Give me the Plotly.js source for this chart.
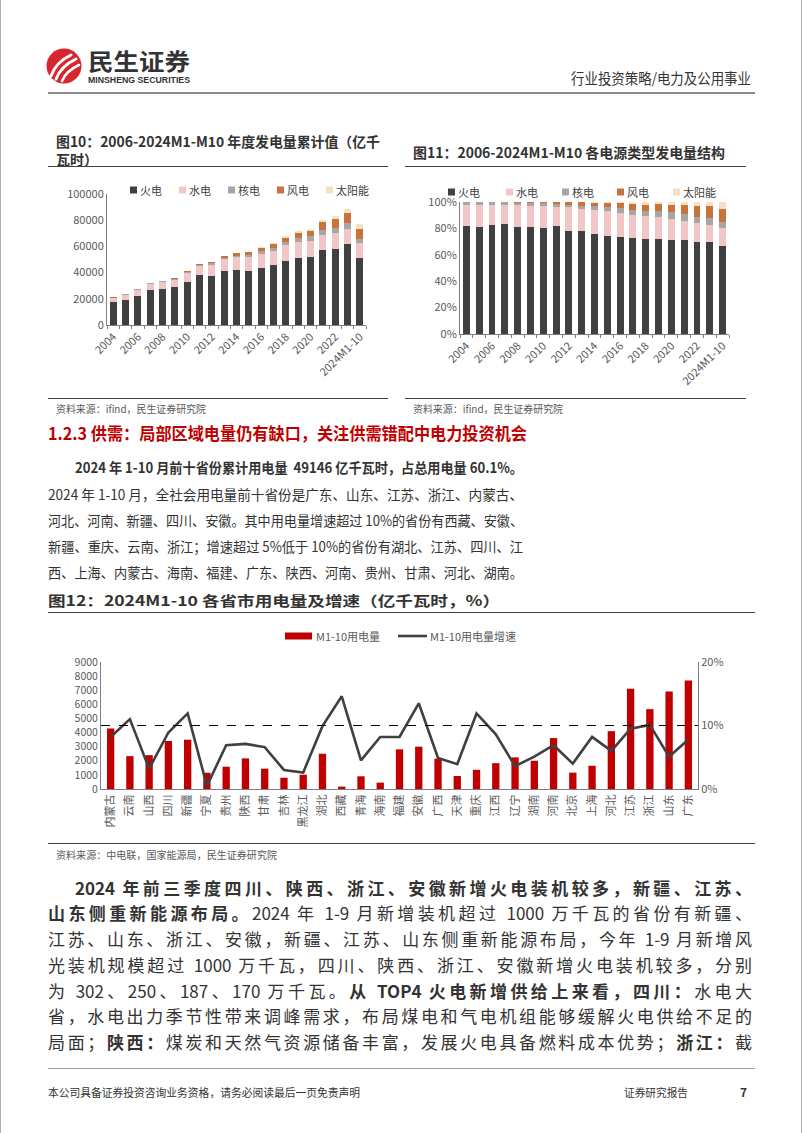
<!DOCTYPE html>
<html><head><meta charset="utf-8">
<script src="https://cdn.plot.ly/plotly-3.0.1.min.js"></script>
<style>
html,body{margin:0;padding:0;background:#fff;}
#page{position:relative;width:802px;height:1133px;overflow:hidden;background:#fff;font-family:'Noto Sans CJK SC','Noto Sans',sans-serif;color:#333;}
.t{position:absolute;white-space:nowrap;line-height:1;}
.hl{position:absolute;height:1px;background:#404040;}
.chart{position:absolute;}
b{font-weight:700;}
</style></head>
<body><div id="page">
<div style="position:absolute;left:0;top:0;width:1px;height:1133px;background:#b0b0b0"></div>
<div style="position:absolute;left:801px;top:0;width:1px;height:1133px;background:#b0b0b0"></div>
<svg style="position:absolute;left:44px;top:46px" width="42" height="42" viewBox="0 0 42 42">
<circle cx="20" cy="20" r="17.5" fill="#d7262d"/>
<path d="M7 30 Q12 16 27 9" stroke="#fff" stroke-width="3" fill="none" stroke-linecap="round"/>
<path d="M12 33 Q17 20 32 13" stroke="#fff" stroke-width="3" fill="none" stroke-linecap="round"/>
<path d="M18 35 Q22 25 35 19" stroke="#fff" stroke-width="2.6" fill="none" stroke-linecap="round"/>
</svg>
<div class="t fit" data-mode="scale" data-w="102" style="left:88px;top:49px;font-size:23px;font-weight:700;color:#333">民生证券</div>
<div class="t fit" data-mode="scale" data-w="102" style="left:88px;top:76px;font-size:8.5px;font-weight:700;color:#333;font-family:'Liberation Sans',sans-serif">MINSHENG SECURITIES</div>
<div class="t fit" data-mode="scale" data-w="180" style="left:571px;top:70px;font-size:15px;color:#333">行业投资策略/电力及公用事业</div>
<div style="position:absolute;left:48px;top:92px;width:707px;height:2px;background:#8c8c8c"></div>

<div class="t fit" data-mode="scale" data-w="324" style="left:56px;top:134px;font-size:14px;font-weight:700">图10：2006-2024M1-M10 年度发电量累计值（亿千</div>
<div class="t" style="left:56px;top:152px;font-size:14px;font-weight:700">瓦时）</div>
<div class="t fit" data-mode="scale" data-w="312" style="left:413px;top:145px;font-size:14px;font-weight:700">图11：2006-2024M1-M10 各电源类型发电量结构</div>
<div class="hl" style="left:48px;top:166px;width:340px"></div>
<div class="hl" style="left:405px;top:166px;width:341px"></div>

<div id="c10" class="chart" style="left:48px;top:170px;width:345px;height:225px"></div>
<div id="c11" class="chart" style="left:405px;top:170px;width:345px;height:225px"></div>

<div class="hl" style="left:48px;top:398px;width:340px"></div>
<div class="hl" style="left:405px;top:398px;width:341px"></div>
<div class="t fit" data-mode="scale" data-w="150" style="left:56px;top:404px;font-size:10px;color:#595959">资料来源：ifind，民生证券研究院</div>
<div class="t fit" data-mode="scale" data-w="150" style="left:413px;top:404px;font-size:10px;color:#595959">资料来源：ifind，民生证券研究院</div>

<div class="t fit" data-mode="scale" data-w="479" style="left:48px;top:424px;font-size:17px;font-weight:700;color:#c00000">1.2.3 供需：局部区域电量仍有缺口，关注供需错配中电力投资机会</div>

<div class="t fit" data-w="448" style="left:75px;top:460px;font-size:14px;color:#333"><b>2024 年 1-10 月前十省份累计用电量&nbsp; 49146 亿千瓦时，占总用电量 60.1%。</b></div>
<div class="t fit" data-w="475" style="left:48px;top:487px;font-size:14px;color:#333">2024 年 1-10 月，全社会用电量前十省份是广东、山东、江苏、浙江、内蒙古、</div>
<div class="t fit" data-w="475" style="left:48px;top:513px;font-size:14px;color:#333">河北、河南、新疆、四川、安徽。其中用电量增速超过 10%的省份有西藏、安徽、</div>
<div class="t fit" data-w="475" style="left:48px;top:539px;font-size:14px;color:#333">新疆、重庆、云南、浙江；增速超过 5%低于 10%的省份有湖北、江苏、四川、江</div>
<div class="t fit" data-w="475" style="left:48px;top:565px;font-size:14px;color:#333">西、上海、内蒙古、海南、福建、广东、陕西、河南、贵州、甘肃、河北、湖南。</div>

<div class="t fit" data-mode="scale" data-w="452" style="left:48px;top:593px;font-size:14px;font-weight:700">图12：2024M1-10 各省市用电量及增速（亿千瓦时，%）</div>
<div class="hl" style="left:48px;top:612px;width:707px"></div>
<div id="c12" class="chart" style="left:48px;top:620px;width:707px;height:222px"></div>
<div class="hl" style="left:48px;top:843px;width:707px"></div>
<div class="t fit" data-mode="scale" data-w="221" style="left:56px;top:850px;font-size:10px;color:#595959">资料来源：中电联，国家能源局，民生证券研究院</div>

<div class="t fit" data-w="677" style="left:75px;top:879px;font-size:17px;color:#333"><b>2024 年前三季度四川、陕西、浙江、安徽新增火电装机较多，新疆、江苏、</b></div>
<div class="t fit" data-w="704" style="left:48px;top:904px;font-size:17px;color:#333"><b>山东侧重新能源布局。</b>2024 年 1-9 月新增装机超过 1000 万千瓦的省份有新疆、</div>
<div class="t fit" data-w="704" style="left:48px;top:930px;font-size:17px;color:#333">江苏、山东、浙江、安徽，新疆、江苏、山东侧重新能源布局，今年 1-9 月新增风</div>
<div class="t fit" data-w="704" style="left:48px;top:956px;font-size:17px;color:#333">光装机规模超过 1000 万千瓦，四川、陕西、浙江、安徽新增火电装机较多，分别</div>
<div class="t fit" data-w="704" style="left:48px;top:982px;font-size:17px;color:#333">为 302、250、187、170 万千瓦。<b>从 TOP4 火电新增供给上来看，四川：</b>水电大</div>
<div class="t fit" data-w="704" style="left:48px;top:1007px;font-size:17px;color:#333">省，水电出力季节性带来调峰需求，布局煤电和气电机组能够缓解火电供给不足的</div>
<div class="t fit" data-w="704" style="left:48px;top:1033px;font-size:17px;color:#333">局面；<b>陕西：</b>煤炭和天然气资源储备丰富，发展火电具备燃料成本优势；<b>浙江：</b>截</div>

<div style="position:absolute;left:48px;top:1068px;width:707px;height:1px;background:#a0a0a0"></div>
<div class="t fit" data-mode="scale" data-w="312" style="left:48px;top:1087px;font-size:11px;color:#333">本公司具备证券投资咨询业务资格，请务必阅读最后一页免责声明</div>
<div class="t fit" data-mode="scale" data-w="64" style="left:624px;top:1087px;font-size:11px;color:#333">证券研究报告</div>
<div class="t" style="left:740px;top:1086px;font-size:12px;font-weight:700;color:#333">7</div>
</div>
<script>
// ---- Data: 图10/图11 annual generation (亿千瓦时) ----
const years = ['2004','2005','2006','2007','2008','2009','2010','2011','2012','2013','2014','2015','2016','2017','2018','2019','2020','2021','2022','2023','2024M1-10'];
const thermal = [17200,19200,22500,26400,27300,29000,33000,38000,37500,41200,41700,41500,43300,45500,49200,51200,52000,57000,58000,61800,51500];
const hydro   = [3280,3950,4170,4710,5630,5720,6870,6680,8560,8920,10000,10300,11000,11000,11500,12000,12100,11800,12000,11400,10900];
const nuclear = [505,530,548,620,684,700,747,872,983,1116,1332,1714,2130,2480,2944,3487,3662,4075,4178,4333,3400];
const wind    = [13,16,28,57,131,276,446,703,960,1412,1598,1856,2113,2700,3145,3577,4146,5667,6867,8090,7750];
const solar   = [0,0,0,0,0,0,1,6,36,84,235,395,662,1000,1300,1200,1421,1836,2290,2940,3900];
const sourceNames = ['火电','水电','核电','风电','太阳能'];

// ---- Data: 图12 provinces ----
const provinces = ['内蒙古','云南','山西','四川','新疆','宁夏','贵州','陕西','甘肃','吉林','黑龙江','湖北','西藏','青海','海南','福建','安徽','广西','天津','重庆','江西','辽宁','湖南','河南','北京','上海','河北','江苏','浙江','山东','广东'];
const usage  = [4290,2330,2400,3400,3490,1150,1580,2170,1440,800,1010,2500,170,900,450,2810,3000,2150,920,1360,1830,2240,2000,3610,1160,1650,4100,7100,5660,6910,7690];
const growth = [8.2,11.0,3.2,8.9,11.9,0.5,6.9,7.1,6.6,3.0,2.6,9.9,14.6,4.5,8.2,8.2,13.5,4.9,3.9,11.9,8.6,3.6,5.1,6.9,4.0,8.2,6.0,9.5,10.1,5.1,7.8];
const seriesNames12 = ['M1-10用电量','M1-10用电量增速'];

const FONT = "'Noto Sans CJK SC','Noto Sans',sans-serif";
const colors = ['#404040','#f0c6c6','#a6a6a6','#c8733b','#f3e2c2'];
const genSeries = [thermal,hydro,nuclear,wind,solar];
const cfg = {displayModeBar:false, staticPlot:true};
const tickText = years.map((y,i)=> i%2===0 ? y : '');

function genTraces(){
  return genSeries.map((s,i)=>({type:'bar', x:years, y:s, name:sourceNames[i], marker:{color:colors[i]}, showlegend:false}));
}
function baseX(){
  return {type:'category', tickmode:'array', tickvals:years, ticktext:tickText, tickangle:-45,
    ticks:'outside', tickson:'boundaries', ticklen:3, tickcolor:'#7f7f7f', showline:true, linecolor:'#7f7f7f', linewidth:1,
    showgrid:false, tickfont:{size:11,color:'#595959'}};
}
// custom compact legend built in plot-area pixel offsets (swatch + label)
function legendItems(names, cols, offsets, dy, sw){
  const shapes=[], anns=[];
  names.forEach((n,i)=>{
    shapes.push({type:'rect', xref:'paper', yref:'paper', xsizemode:'pixel', ysizemode:'pixel', xanchor:0, yanchor:1,
      x0:offsets[i], x1:offsets[i]+sw, y0:dy-sw/2, y1:dy+sw/2, fillcolor:cols[i], line:{width:0}});
    anns.push({xref:'paper', yref:'paper', x:0, y:1, xshift:offsets[i]+sw+1, yshift:dy, xanchor:'left', yanchor:'middle',
      text:n, showarrow:false, font:{size:11,color:'#404040'}});
  });
  return {shapes, anns};
}
const lg10 = legendItems(sourceNames, colors, [23,72,121,170,219], 4, 7);
const lg11 = legendItems(sourceNames, colors, [-12,46,102,157,213], 10, 7);

Plotly.newPlot('c10', genTraces(), {
  width:345, height:225, margin:{l:59,r:27,t:24,b:70},
  paper_bgcolor:'rgba(0,0,0,0)', plot_bgcolor:'rgba(0,0,0,0)',
  font:{family:FONT,size:11,color:'#595959'},
  barmode:'stack', bargap:0.42, showlegend:false,
  shapes:lg10.shapes, annotations:lg10.anns,
  xaxis:baseX(),
  yaxis:{range:[0,100000], dtick:20000, tickformat:'d', showline:true, linecolor:'#7f7f7f', showgrid:false, zeroline:false,
    ticks:'', tickfont:{size:11,color:'#595959'}}
}, cfg);

Plotly.newPlot('c11', genTraces(), {
  width:345, height:225, margin:{l:55,r:21,t:32,b:61},
  paper_bgcolor:'rgba(0,0,0,0)', plot_bgcolor:'rgba(0,0,0,0)',
  font:{family:FONT,size:11,color:'#595959'},
  barmode:'stack', barnorm:'percent', bargap:0.46, showlegend:false,
  shapes:lg11.shapes, annotations:lg11.anns,
  xaxis:baseX(),
  yaxis:{range:[0,100], dtick:20, ticksuffix:'%', showline:true, linecolor:'#7f7f7f', showgrid:false, zeroline:false,
    ticks:'', tickfont:{size:11,color:'#595959'}}
}, cfg);

// legend for 图12: wide red swatch + line swatch
const lg12shapes = [
  {type:'rect', xref:'paper', yref:'paper', xsizemode:'pixel', ysizemode:'pixel', xanchor:0, yanchor:1,
   x0:184, x1:211, y0:22.5, y1:29.5, fillcolor:'#c00000', line:{width:0}},
  {type:'line', xref:'paper', yref:'paper', xsizemode:'pixel', ysizemode:'pixel', xanchor:0, yanchor:1,
   x0:297, x1:326, y0:26, y1:26, line:{color:'#404040', width:2.6}},
  {type:'line', xref:'paper', x0:0, x1:1, yref:'y2', y0:10, y1:10, line:{color:'#000', width:1.2, dash:'dash'}}
];
const lg12anns = [
  {xref:'paper', yref:'paper', x:0, y:1, xshift:213, yshift:26, xanchor:'left', yanchor:'middle', text:seriesNames12[0], showarrow:false, font:{size:11,color:'#595959'}},
  {xref:'paper', yref:'paper', x:0, y:1, xshift:327, yshift:26, xanchor:'left', yanchor:'middle', text:seriesNames12[1], showarrow:false, font:{size:11,color:'#595959'}}
];

Plotly.newPlot('c12', [
  {type:'bar', x:provinces, y:usage, name:seriesNames12[0], marker:{color:'#c00000'}},
  {type:'scatter', mode:'lines', x:provinces, y:growth, name:seriesNames12[1], yaxis:'y2', line:{color:'#404040',width:2.6}}
], {
  width:707, height:222, margin:{l:53,r:57,t:42,b:53},
  paper_bgcolor:'rgba(0,0,0,0)', plot_bgcolor:'rgba(0,0,0,0)',
  font:{family:FONT,size:11,color:'#595959'},
  bargap:0.62, showlegend:false,
  shapes:lg12shapes, annotations:lg12anns,
  xaxis:{type:'category', tickangle:-90, showline:true, linecolor:'#7f7f7f', ticks:'', showgrid:false, tickfont:{size:11,color:'#595959'}},
  yaxis:{range:[0,9000], dtick:1000, tickformat:'d', showline:true, linecolor:'#7f7f7f', showgrid:false, zeroline:false, ticks:'', tickfont:{size:10.5,color:'#595959'}},
  yaxis2:{overlaying:'y', side:'right', range:[0,20], dtick:10, ticksuffix:'%', showline:true, linecolor:'#7f7f7f', showgrid:false, zeroline:false,
    ticks:'inside', ticklen:4, tickcolor:'#7f7f7f', tickfont:{size:11,color:'#595959'}}
}, cfg);

function fit(){
  document.querySelectorAll('.fit').forEach(el=>{
    const w = +el.dataset.w;
    el.style.transform=''; el.style.width='auto'; el.style.textAlign=''; el.style.textAlignLast='';
    const nat = el.getBoundingClientRect().width;
    if (nat > w || el.dataset.mode==='scale') { el.style.transformOrigin='0 0'; el.style.transform='scaleX('+(w/nat)+')'; }
    else { el.style.width=w+'px'; el.style.textAlign='justify'; el.style.textAlignLast='justify'; }
  });
}
fit();
if (document.fonts && document.fonts.ready) document.fonts.ready.then(fit);
</script>
</body></html>
